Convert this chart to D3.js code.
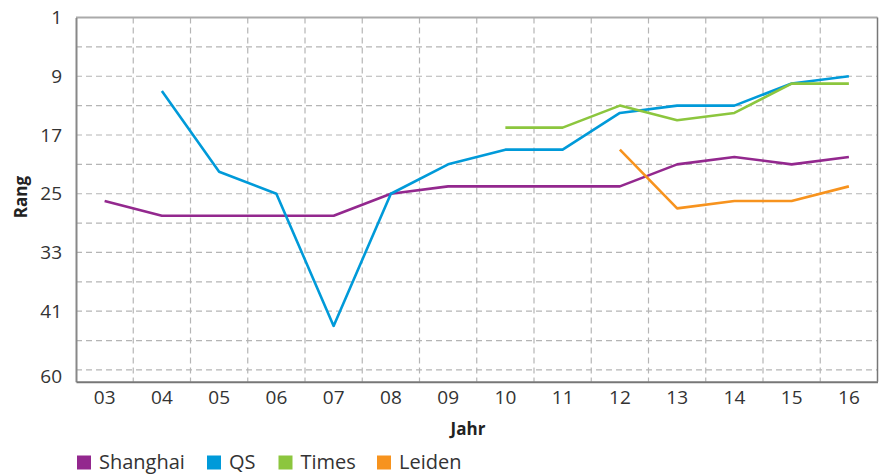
<!DOCTYPE html>
<html>
<head>
<meta charset="utf-8">
<script src="https://cdn.jsdelivr.net/npm/d3@7/dist/d3.min.js"></script>
<style>
  body { margin: 0; background: #fff; }
  svg { display: block; font-family: "Open Sans", "Noto Sans", sans-serif; }
</style>
</head>
<body>
<svg id="chart" width="882" height="475"></svg>
<script>
const years = ["03","04","05","06","07","08","09","10","11","12","13","14","15","16"];
const shanghai = [26, 28, 28, 28, 28, 25, 24, 24, 24, 24, 21, 20, 21, 20];
const qs       = [null, 11, 22, 25, 43, 25, 21, 19, 19, 14, 13, 13, 10, 9];
const times    = [null, null, null, null, null, null, null, 16, 16, 13, 15, 14, 10, 10];
const leiden   = [null, null, null, null, null, null, null, null, null, 19, 27, 26, 26, 24];
const seriesNames = ["Shanghai", "QS", "Times", "Leiden"];
const seriesColors = ["#93288e", "#009ad9", "#8cc63e", "#f7931e"];
const yTickValues = [1, 9, 17, 25, 33, 41, 49.9];
const yTickLabels = ["1", "9", "17", "25", "33", "41", "60"];
const yGridValues = d3.range(5, 50, 4);

const series = [shanghai, qs, times, leiden];

const svg = d3.select("#chart");
const pL = 76, pR = 877.5, pT = 17.5, pB = 381.7;

const x = d3.scaleBand().domain(years).range([pL, pR]).padding(0);
const y = d3.scaleLinear().domain([1, 50.6]).range([pT, pB]);

// horizontal grid
svg.append("g").selectAll("line").data(yGridValues).join("line")
  .attr("x1", pL).attr("x2", pR)
  .attr("y1", d => y(d)).attr("y2", d => y(d))
  .attr("stroke", "#b5b5b5").attr("stroke-width", 1.2)
  .attr("stroke-dasharray", "6,4");

// vertical grid
svg.append("g").selectAll("line").data(years.slice(1)).join("line")
  .attr("x1", d => x(d)).attr("x2", d => x(d))
  .attr("y1", pT).attr("y2", pB)
  .attr("stroke", "#b5b5b5").attr("stroke-width", 1.2)
  .attr("stroke-dasharray", "6,4");

// frame
svg.append("line").attr("x1", pL).attr("x2", pR).attr("y1", pT).attr("y2", pT)
  .attr("stroke", "#aaa").attr("stroke-width", 2);
svg.append("line").attr("x1", pR).attr("x2", pR).attr("y1", pT).attr("y2", pB)
  .attr("stroke", "#777").attr("stroke-width", 1.5);

// y axis
const yAxis = d3.axisLeft(y).tickValues(yTickValues)
  .tickFormat((d, i) => yTickLabels[i]).tickSize(0).tickPadding(14);
const gy = svg.append("g").attr("transform", `translate(${pL},0)`).call(yAxis);
gy.select(".domain").attr("stroke", "#888").attr("stroke-width", 2);
gy.selectAll("text").attr("font-size", 19).attr("fill", "#333")
  .attr("font-family", "'Open Sans', sans-serif");

// x axis
const xAxis = d3.axisBottom(x).tickSize(0).tickPadding(9);
const gx = svg.append("g").attr("transform", `translate(0,${pB})`).call(xAxis);
gx.select(".domain").attr("stroke", "#777").attr("stroke-width", 2);
gx.selectAll("text").attr("font-size", 19).attr("fill", "#333")
  .attr("font-family", "'Open Sans', sans-serif");

// axis titles
svg.append("text").attr("x", 468).attr("y", 435).attr("text-anchor", "middle")
  .attr("font-size", 17).attr("font-weight", "bold").attr("fill", "#222").text("Jahr");
svg.append("text").attr("transform", "translate(27,197) rotate(-90)")
  .attr("text-anchor", "middle").attr("font-size", 17).attr("font-weight", "bold")
  .attr("fill", "#222").text("Rang");

// lines
const line = d3.line()
  .defined(d => d.v != null)
  .x(d => x(d.year) + x.bandwidth() / 2)
  .y(d => y(d.v));

series.forEach((s, i) => {
  const pts = years.map((yr, j) => ({ year: yr, v: s[j] }));
  svg.append("path").datum(pts)
    .attr("d", line).attr("fill", "none")
    .attr("stroke", seriesColors[i]).attr("stroke-width", 2.6)
    .attr("stroke-linejoin", "round");
});

// legend
const legendX = [77, 207, 278.5, 377];
const lg = svg.append("g");
seriesNames.forEach((n, i) => {
  lg.append("rect").attr("x", legendX[i]).attr("y", 455.5).attr("width", 14).attr("height", 14)
    .attr("fill", seriesColors[i]);
  lg.append("text").attr("x", legendX[i] + 22).attr("y", 469)
    .attr("font-size", 20).attr("fill", "#333").text(n);
});
</script>
</body>
</html>
